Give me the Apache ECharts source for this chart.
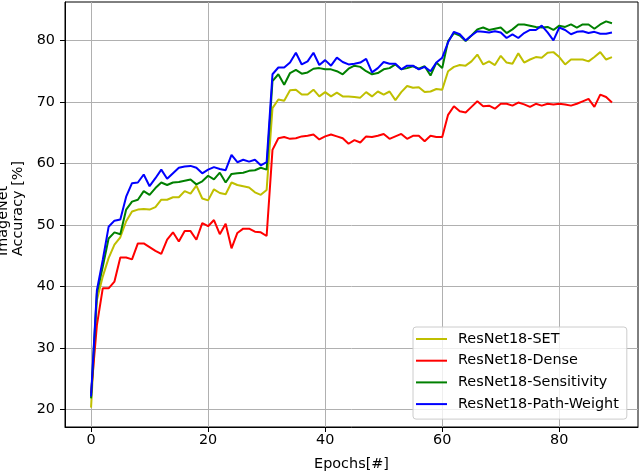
<!DOCTYPE html>
<html lang="en" style="height: 100%">
<head>
  <meta charset="utf-8">
</head>
<body style="height: 100%; margin: 0; background: #fff">
  <div id="container" style="width: 640px; height: 472px"></div>

  <script type="text/javascript" src="https://cdn.jsdelivr.net/npm/echarts@6/dist/echarts.min.js"></script>

  <script type="text/javascript">
    // 数据
    var epochs = [];
    for (var i = 0; i < 90; i++) epochs.push(i);

    var seriesNames = ['ResNet18-SET', 'ResNet18-Dense', 'ResNet18-Sensitivity', 'ResNet18-Path-Weight'];
    var seriesColors = ['#bfbf00', '#ff0000', '#008000', '#0000ff'];

    var setAcc = [
      20.3, 37.8, 41.6, 44.6, 46.8, 48.0, 50.6, 52.2, 52.5, 52.6,
      52.5, 52.9, 54.1, 54.1, 54.5, 54.5, 55.5, 55.1, 56.4, 54.3,
      54.0, 55.8, 55.2, 55.0, 56.9, 56.5, 56.3, 56.1, 55.3, 54.9,
      55.7, 69.0, 70.4, 70.2, 71.9, 72.0, 71.2, 71.2, 72.0, 70.9,
      71.6, 70.9, 71.5, 70.9, 70.9, 70.8, 70.7, 71.6, 70.9, 71.7,
      71.2, 71.7, 70.3, 71.6, 72.6, 72.3, 72.4, 71.6, 71.7, 72.1,
      72.0, 75.0, 75.7, 76.0, 75.9, 76.6, 77.7, 76.1, 76.6, 76.0,
      77.5, 76.4, 76.2, 77.9, 76.4, 76.9, 77.3, 77.2, 78.0, 78.1,
      77.3, 76.1, 76.9, 76.9, 76.9, 76.6, 77.3, 78.1, 76.9, 77.3
    ];
    var denseAcc = [
      22.6, 33.7, 39.7, 39.7, 40.8, 44.7, 44.7, 44.4, 47.0, 47.0,
      46.4, 45.8, 45.3, 47.6, 48.8, 47.3, 49.0, 49.0, 47.6, 50.3,
      49.8, 50.8, 48.5, 50.2, 46.2, 48.7, 49.4, 49.4, 48.9, 48.8,
      48.2, 62.2, 64.1, 64.3, 64.0, 64.1, 64.4, 64.5, 64.7, 63.9,
      64.4, 64.7, 64.4, 64.1, 63.2, 63.8, 63.4, 64.4, 64.3, 64.5,
      64.8, 64.0, 64.4, 64.8, 64.0, 64.5, 64.5, 63.6, 64.5, 64.3,
      64.3, 67.9, 69.3, 68.5, 68.3, 69.2, 70.1, 69.3, 69.4, 68.9,
      69.7, 69.7, 69.4, 69.9, 69.6, 69.2, 69.7, 69.4, 69.7, 69.6,
      69.7, 69.6, 69.4, 69.7, 70.1, 70.5, 69.2, 71.2, 70.8, 69.9
    ];
    var sensAcc = [
      21.8, 38.9, 43.2, 47.8, 48.8, 48.5, 52.5, 53.8, 54.1, 55.5,
      54.9, 56.0, 56.9, 56.5, 56.9, 57.0, 57.2, 57.4, 56.6, 57.1,
      58.0, 57.4, 58.5, 56.9, 58.3, 58.4, 58.5, 58.8, 58.9, 59.3,
      59.0, 73.4, 74.5, 72.8, 74.7, 75.2, 74.6, 74.8, 75.4, 75.5,
      75.3, 75.3, 75.0, 74.5, 75.4, 75.9, 75.7, 75.0, 74.5, 74.7,
      75.3, 75.5, 76.1, 75.3, 75.5, 75.8, 75.4, 75.8, 74.3, 76.4,
      75.5, 79.9, 81.2, 80.8, 79.9, 80.8, 81.8, 82.1, 81.7, 81.9,
      82.1, 81.2, 81.8, 82.6, 82.6, 82.4, 82.2, 82.1, 82.2, 81.7,
      82.4, 82.2, 82.6, 82.1, 82.6, 82.6, 81.9, 82.6, 83.1, 82.8
    ];
    var pathAcc = [
      22.1, 39.4, 44.3, 49.7, 50.7, 50.9, 54.6, 56.8, 56.9, 58.2,
      56.3, 57.6, 59.0, 57.5, 58.4, 59.3, 59.5, 59.6, 59.3, 58.4,
      59.0, 59.4, 59.1, 58.9, 61.4, 60.2, 60.6, 60.3, 60.6, 59.7,
      60.2, 74.5, 75.6, 75.6, 76.4, 78.0, 76.1, 76.6, 78.0, 76.0,
      76.8, 75.9, 77.2, 76.5, 76.1, 76.2, 76.4, 77.0, 74.8, 75.5,
      76.5, 76.2, 76.2, 75.3, 75.9, 75.9, 75.3, 75.7, 75.0, 76.4,
      77.2, 79.7, 81.4, 81.0, 80.0, 80.8, 81.5, 81.4, 81.3, 81.5,
      81.3, 80.4, 81.0, 80.4, 81.2, 81.7, 81.7, 82.4, 81.3, 80.0,
      82.1, 81.7, 81.0, 81.4, 81.5, 81.2, 81.4, 81.1, 81.1, 81.3
    ];

    var xTicks = [0, 20, 40, 60, 80];
    var yTicks = [20, 30, 40, 50, 60, 70, 80];

    var dom = document.getElementById('container');
    var myChart = echarts.init(dom, null, { renderer: 'canvas' });

    var font = 'DejaVu Sans';
    var fs = 14.4;
    var allAcc = [setAcc, denseAcc, sensAcc, pathAcc];

    var series = allAcc.map(function (acc, k) {
      return {
        name: seriesNames[k],
        type: 'line',
        symbol: 'none',
        animation: false,
        data: epochs.map(function (e, i) { return [e, acc[i]]; }),
        lineStyle: { color: seriesColors[k], width: 2 },
        itemStyle: { color: seriesColors[k] }
      };
    });

    var option = {
      backgroundColor: '#fff',
      animation: false,
      grid: {
        left: 65, right: 2, top: 2, bottom: 45,
        containLabel: false,
        outerBoundsMode: 'none',
        show: true, borderColor: '#000', borderWidth: 1
      },
      legend: {
        orient: 'vertical',
        left: 413, top: 327,
        padding: [4, 8, 7, 3],
        icon: 'rect',
        itemWidth: 31, itemHeight: 2, itemGap: 5.7,
        backgroundColor: 'rgba(255,255,255,0.8)',
        borderColor: '#cccccc', borderWidth: 1, borderRadius: 3,
        textStyle: { fontFamily: font, fontSize: fs, lineHeight: 16, color: '#000', padding: [0, 0, 0, 6] },
        data: seriesNames
      },
      xAxis: {
        type: 'value',
        min: -4.45, max: 93.45,
        name: 'Epochs[#]',
        nameLocation: 'middle',
        nameGap: 30,
        nameTextStyle: { fontFamily: font, fontSize: fs, color: '#000' },
        axisLine: { show: true, onZero: false, lineStyle: { color: '#000', width: 1 } },
        axisTick: { show: true, length: 5, lineStyle: { color: '#000' }, customValues: xTicks },
        axisLabel: { fontFamily: font, fontSize: fs, color: '#000', margin: 6, customValues: xTicks },
        splitLine: { show: true, lineStyle: { color: '#b0b0b0', width: 1 } }
      },
      yAxis: {
        type: 'value',
        min: 17.15, max: 86.25,
        name: '{a|ImageNet}\n{a|Accuracy [%]}',
        nameLocation: 'middle',
        nameRotate: 90,
        nameGap: 36,
        nameTextStyle: {
          fontFamily: font, fontSize: fs, color: '#000', lineHeight: 15,
          padding: [0, 0, 0, 12],
          rich: { a: { align: 'left', fontFamily: font, fontSize: fs, color: '#000', lineHeight: 15 } }
        },
        axisLine: { show: true, onZero: false, lineStyle: { color: '#000', width: 1 } },
        axisTick: { show: true, length: 5, lineStyle: { color: '#000' }, customValues: yTicks },
        axisLabel: { fontFamily: font, fontSize: fs, color: '#000', margin: 10, customValues: yTicks },
        splitLine: { show: true, lineStyle: { color: '#b0b0b0', width: 1 } }
      },
      series: series
    };

    myChart.setOption(option);
    window.addEventListener('resize', myChart.resize);
  </script>
</body>
</html>
